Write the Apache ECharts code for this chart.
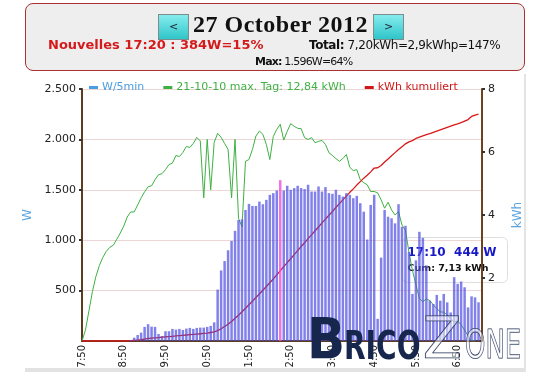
<!DOCTYPE html>
<html><head><meta charset="utf-8">
<script src="https://cdn.jsdelivr.net/npm/echarts@6/dist/echarts.min.js"></script>
<style>
body{margin:0;width:538px;height:376px;overflow:hidden;background:#fff;font-family:"DejaVu Sans",Verdana,sans-serif;position:relative}
#chart{position:absolute;left:0;top:0;width:538px;height:368px}
#frameB{position:absolute;left:25px;top:368px;width:501px;height:4px;background:#e2e2e2}
#frameR{position:absolute;left:524px;top:74px;width:2px;height:298px;background:#e4e4e4}
#hdr{position:absolute;left:25px;top:3px;width:498px;height:66px;border:1px solid #a83232;border-radius:8px;background:#efeeee}
.btn{position:absolute;top:10px;width:29px;height:24px;border:1px solid #7f8c8c;background:linear-gradient(#86ecee,#2fc5c8);font-size:11px;color:#223;text-align:center;line-height:24px}
.t{position:absolute;white-space:pre;line-height:14px}
#title{position:absolute;left:167px;top:7px;white-space:pre;font-family:"Liberation Serif","DejaVu Serif",serif;font-weight:bold;font-size:24px;letter-spacing:0.5px;line-height:26px;color:#111}
</style></head>
<body>
<div id="chart"></div>
<div id="frameB"></div><div id="frameR"></div>
<div id="hdr">
  <div class="btn" style="left:132px">&lt;</div>
  <div id="title">27 October 2012</div>
  <div class="btn" style="left:347px">&gt;</div>
  <div class="t" style="left:22px;top:34px;font-size:13px;font-weight:bold;color:#d41a1a">Nouvelles 17:20 : 384W=15%</div>
  <div class="t" style="left:283px;top:34px;font-size:12px;letter-spacing:-0.4px;color:#111"><b>Total:</b> 7,20kWh=2,9kWhp=147%</div>
  <div class="t" style="left:229px;top:51px;font-size:11px;letter-spacing:-0.8px;color:#111"><b>Max:</b> 1.596W=64%</div>
</div>
<script>
// ---- data ----
const seriesNames = ['W/5min', '21-10-10 max. Tag: 12,84 kWh', 'kWh kumuliert'];
// 5-minute slots 07:50 .. 17:25
const timeLabels = [];
for (let m = 7*60+50; m <= 17*60+25; m += 5) {
  const h = Math.floor(m/60), mm = m%60;
  timeLabels.push((h<10?'0':'')+h+':'+(mm<10?'0':'')+mm);
}
// W per 5 min (07:50 .. 17:20)
const wValues = [
 null,null,null,null,null,null,null,null,null,null,null,null,null,null,
 10,33,60,83,140,167,143,140,70,50,
 97,97,120,113,120,109,123,130,120,130,
 133,133,140,150,185,510,700,793,900,993,
 1093,1200,1207,1300,1360,1340,1340,1383,1357,1400,
 1450,1467,1493,1596,1493,1540,1500,1517,1540,1517,
 1507,1550,1483,1483,1533,1483,1527,1467,1460,1500,
 1450,1433,1467,1450,1417,1440,1367,1283,1007,1350,
 1450,220,827,1300,1233,1217,1167,1357,1133,1143,
 883,467,800,1083,1023,750,400,367,457,400,
 467,383,283,633,567,590,533,333,443,433,
 384
];
const maxIndex = 57; // 12:35, 1.596 W
// reference day 21-10-10 (W)
const refDayValues = [
 0,110,300,490,640,750,830,890,930,950,
 1010,1070,1140,1230,1280,1280,1350,1420,1480,1530,
 1540,1600,1650,1660,1700,1750,1765,1840,1830,1870,
 1930,1920,1960,2020,1985,1420,2000,1500,1970,2060,
 2020,1960,1900,1420,2000,1217,1133,1783,1800,1900,
 2033,2083,2050,1950,1800,2030,2100,2150,1993,2080,
 2157,2130,2110,2107,2017,2000,2017,1967,1980,1990,
 1950,1867,1840,1810,1783,1810,1850,1723,1690,1700,
 1600,1570,1550,1483,1483,1470,1400,1317,1377,1300,
 1250,1283,1150,1100,880,700,560,420,390,417,
 400,360,320,290,285,260,220,190,200,160,
 110,50,0,0
];
// cumulated kWh
const kwhCum = [
 0,0,0,0,0,0,0,0,0,0,0,0,0,0,
 0.01,0.02,0.03,0.04,0.06,0.08,0.09,0.10,0.11,0.12,
 0.13,0.14,0.15,0.16,0.17,0.18,0.19,0.20,0.21,0.22,
 0.23,0.24,0.25,0.27,0.29,0.33,0.39,0.46,0.53,0.62,
 0.72,0.82,0.93,1.04,1.15,1.26,1.38,1.49,1.61,1.73,
 1.85,1.97,2.10,2.23,2.36,2.49,2.61,2.74,2.87,3.00,
 3.12,3.25,3.37,3.50,3.62,3.75,3.87,3.99,4.11,4.24,
 4.36,4.48,4.60,4.72,4.83,4.95,5.06,5.17,5.26,5.37,
 5.49,5.50,5.57,5.68,5.78,5.88,5.98,6.08,6.17,6.26,
 6.32,6.36,6.43,6.47,6.51,6.55,6.58,6.62,6.66,6.70,
 6.74,6.78,6.82,6.86,6.89,6.93,6.98,7.03,7.13,7.17,
 7.20
];
const wAxisMax = 2500, wAxisStep = 500;
const kwhAxisMax = 8, kwhAxisStep = 2;
const tipTime = '17:10', tipW = '444 W', tipCum = 'Cum: 7,13 kWh';

// ---- chart ----
const FONT = 'DejaVu Sans';
const AXIS = '#5e3c1f';
const barData = wValues.map((v,i) => i === maxIndex
  ? {value: v, itemStyle: {color: 'rgba(240,80,222,0.8)'}} : v);

const chart = echarts.init(document.getElementById('chart'), null, {renderer: 'canvas'});
chart.setOption({
  animation: false,
  grid: {left: 82, right: 56, top: 89, bottom: 27, containLabel: false, outerBoundsMode: 'none'},
  legend: {
    left: 84, top: 77, icon: 'rect', itemWidth: 9, itemHeight: 3, itemGap: 19,
    textStyle: {fontFamily: FONT, fontSize: 11, padding: [0,0,0,-1]},
    selectedMode: false,
    data: [
      {name: seriesNames[0], itemStyle: {color: '#4a9de0'}, textStyle: {color: '#4a9de0'}},
      {name: seriesNames[1], itemStyle: {color: '#3fb043'}, textStyle: {color: '#3fb043'}},
      {name: seriesNames[2], itemStyle: {color: '#d01818'}, textStyle: {color: '#d01818'}}
    ]
  },
  xAxis: {
    type: 'category', data: timeLabels, boundaryGap: false,
    axisLine: {lineStyle: {color: AXIS, width: 2}},
    axisTick: {show: false},
    axisLabel: {interval: 11, rotate: 90, fontFamily: FONT, fontSize: 10, color: '#222', margin: 4}
  },
  yAxis: [{
    type: 'value', min: 0, max: wAxisMax, interval: wAxisStep,
    name: 'W', nameLocation: 'middle', nameGap: 46, nameRotate: 90,
    nameTextStyle: {color: '#5aa3de', fontFamily: FONT, fontSize: 12},
    axisLine: {show: true, lineStyle: {color: AXIS, width: 2}},
    axisTick: {show: true, length: 3, lineStyle: {color: '#333', width: 2}},
    axisLabel: {showMinLabel: false, fontFamily: FONT, fontSize: 11, color: '#222', margin: 6,
      formatter: v => v >= 1000 ? Math.floor(v/1000) + '.' + String(v%1000).padStart(3,'0') : String(v)},
    splitLine: {lineStyle: {color: '#ecd6d6', width: 1}}
  }, {
    type: 'value', min: 0, max: kwhAxisMax, interval: kwhAxisStep, position: 'right',
    name: 'kWh', nameLocation: 'middle', nameGap: 30, nameRotate: 90,
    nameTextStyle: {color: '#5aa3de', fontFamily: FONT, fontSize: 12},
    axisLine: {show: true, lineStyle: {color: '#6e4120', width: 2}},
    axisTick: {show: true, length: 3, lineStyle: {color: '#333', width: 2}},
    axisLabel: {showMinLabel: false, fontFamily: FONT, fontSize: 11, color: '#222', margin: 6},
    splitLine: {show: false}
  }],
  series: [
    {name: seriesNames[0], type: 'bar', yAxisIndex: 0, data: barData, barWidth: 2.5, z: 5,
     itemStyle: {color: 'rgba(80,80,225,0.72)'}},
    {name: seriesNames[1], type: 'line', yAxisIndex: 0, data: refDayValues, z: 2,
     showSymbol: false, symbol: 'none', lineStyle: {color: '#3fb043', width: 1}},
    {name: seriesNames[2], type: 'line', yAxisIndex: 1, data: kwhCum, z: 3,
     showSymbol: false, symbol: 'none', lineStyle: {color: '#d81818', width: 1.3}}
  ],
  graphic: [
    {type: 'group', left: 402, top: 237, z: 50, children: [
      {type: 'rect', shape: {x: 0, y: 0, width: 105, height: 45, r: 5},
       style: {fill: 'rgba(255,255,255,0.2)', stroke: '#dedede', lineWidth: 1}},
      {type: 'text', x: 5, y: 15, style: {text: tipTime + '  ' + tipW, font: 'bold 12px "DejaVu Sans"', fill: '#1818c8', verticalAlign: 'middle'}},
      {type: 'text', x: 5, y: 31, style: {text: tipCum, font: 'bold 9.5px "DejaVu Sans"', fill: '#111', verticalAlign: 'middle'}}
    ]},
    {type: 'text', z: 60, x: 307, y: 344, scaleY: 1.15,
     style: {text: 'B', font: 'bold 50px "DejaVu Sans"', fill: '#17264d', verticalAlign: 'middle'}},
    {type: 'text', z: 60, x: 344, y: 349, scaleX: 0.78, scaleY: 1.1,
     style: {text: 'RICO', font: 'bold 36px "DejaVu Sans"', fill: '#17264d', verticalAlign: 'middle'}},
    {type: 'text', z: 60, x: 423, y: 343, scaleX: 1.12, scaleY: 1.15,
     style: {text: 'Z', font: '50px "DejaVu Sans"', fill: 'rgba(255,255,255,0.5)', stroke: '#17264d', lineWidth: 1, verticalAlign: 'middle'}},
    {type: 'text', z: 60, x: 465, y: 348, scaleX: 0.72, scaleY: 1.1,
     style: {text: 'ONE', font: '36px "DejaVu Sans"', fill: 'rgba(255,255,255,0.5)', stroke: '#17264d', lineWidth: 1, verticalAlign: 'middle'}}
  ]
});
</script>
</body></html>
